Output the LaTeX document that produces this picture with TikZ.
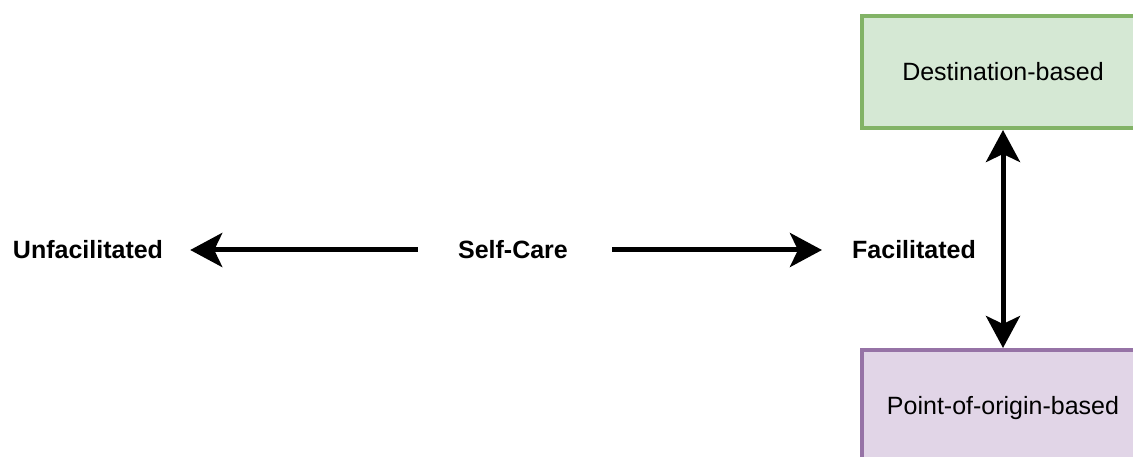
\documentclass[tikz,border=0pt]{standalone}
\usepackage{fontspec}
\setmainfont{Liberation Sans}
\usetikzlibrary{arrows.meta}
\definecolor{greenfill}{HTML}{D5E8D4}
\definecolor{greenline}{HTML}{82B366}
\definecolor{purplefill}{HTML}{E1D5E7}
\definecolor{purpleline}{HTML}{9673A6}
\tikzset{
  label/.style={inner sep=0pt, font=\fontsize{25}{30}\selectfont\bfseries},
  box/.style={draw, line width=4pt, minimum width=282pt, inner sep=0pt,
    font=\fontsize{25}{30}\selectfont},
  arr/.style={line width=5pt, -{Stealth[length=32pt, width=34pt, inset=8pt]}},
  darr/.style={line width=5pt, {Stealth[length=32pt, width=34pt, inset=8pt]}-{Stealth[length=32pt, width=34pt, inset=8pt]}}
}
\begin{document}
\begin{tikzpicture}[x=1pt, y=-1pt]
  \useasboundingbox (0,0) rectangle (1133,457);
  \clip (0,0) rectangle (1133,457);
  \node[label] (unf) at (88,250) {Unfacilitated};
  \node[label] (sc) at (513,250) {Self-Care};
  \node[label] (fac) at (914,250) {Facilitated};
  \node[box, fill=greenfill, draw=greenline, minimum height=112pt] (dest) at (1003,72) {Destination-based};
  \node[box, fill=purplefill, draw=purpleline, minimum height=116pt] (poo) at (1003,408) {Point-of-origin-based};
  \draw[arr, shorten <=40pt, shorten >=27pt] (sc.west) -- (unf.east);
  \draw[arr, shorten <=44pt, shorten >=30pt] (sc.east) -- (fac.west);
  \draw[darr] (dest.south) -- (poo.north);
\end{tikzpicture}
\end{document}
